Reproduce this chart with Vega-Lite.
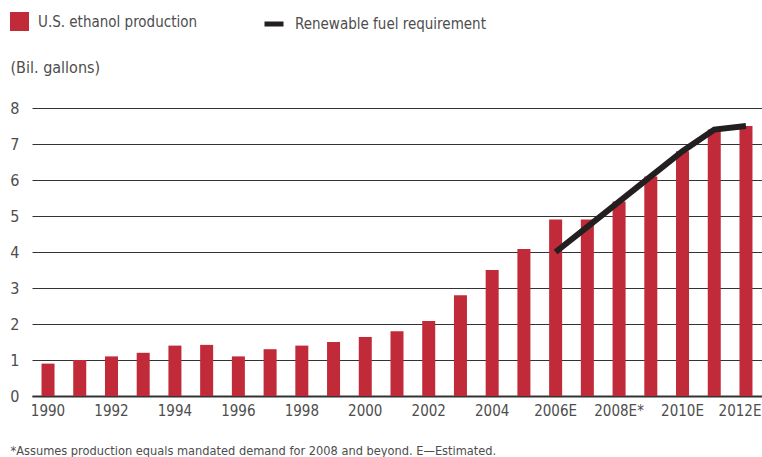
{
  "$schema": "https://vega.github.io/schema/vega-lite/v6.json",
  "width": 730,
  "height": 288,
  "autosize": {"type": "none"},
  "padding": {"left": 32, "top": 108, "right": 0, "bottom": 61},
  "background": "white",
  "config": {
    "view": {"stroke": null},
    "font": "DejaVu Sans Condensed, sans-serif",
    "axis": {"labelColor": "#4d4d4d", "titleColor": "#4d4d4d", "labelFont": "DejaVu Sans Condensed, sans-serif", "titleFont": "DejaVu Sans Condensed, sans-serif"},
    "legend": {"labelColor": "#4d4d4d", "labelFont": "DejaVu Sans Condensed, sans-serif", "labelLimit": 400}
  },
  "data": {
    "values": [
      {"label": "1990", "series": "production", "value": 0.9},
      {"label": "1991", "series": "production", "value": 1.0},
      {"label": "1992", "series": "production", "value": 1.1},
      {"label": "1993", "series": "production", "value": 1.2},
      {"label": "1994", "series": "production", "value": 1.4},
      {"label": "1995", "series": "production", "value": 1.42},
      {"label": "1996", "series": "production", "value": 1.1},
      {"label": "1997", "series": "production", "value": 1.3},
      {"label": "1998", "series": "production", "value": 1.4},
      {"label": "1999", "series": "production", "value": 1.5},
      {"label": "2000", "series": "production", "value": 1.64},
      {"label": "2001", "series": "production", "value": 1.8},
      {"label": "2002", "series": "production", "value": 2.08},
      {"label": "2003", "series": "production", "value": 2.8},
      {"label": "2004", "series": "production", "value": 3.5},
      {"label": "2005", "series": "production", "value": 4.08},
      {"label": "2006E", "series": "production", "value": 4.9},
      {"label": "2007E", "series": "production", "value": 4.9},
      {"label": "2008E*", "series": "production", "value": 5.4},
      {"label": "2009E*", "series": "production", "value": 6.1},
      {"label": "2010E", "series": "production", "value": 6.8},
      {"label": "2011E", "series": "production", "value": 7.4},
      {"label": "2012E", "series": "production", "value": 7.5},
      {"label": "2006E", "series": "requirement", "value": 4.0},
      {"label": "2007E", "series": "requirement", "value": 4.7},
      {"label": "2008E*", "series": "requirement", "value": 5.4},
      {"label": "2009E*", "series": "requirement", "value": 6.1},
      {"label": "2010E", "series": "requirement", "value": 6.8},
      {"label": "2011E", "series": "requirement", "value": 7.4},
      {"label": "2012E", "series": "requirement", "value": 7.5}
    ]
  },
  "encoding": {
    "x": {
      "field": "label",
      "type": "ordinal",
      "sort": null,
      "scale": {"paddingInner": 0.59, "paddingOuter": 0.3},
      "axis": {
        "values": ["1990", "1992", "1994", "1996", "1998", "2000", "2002", "2004", "2006E", "2008E*", "2010E", "2012E"],
        "labelAngle": 0,
        "labelFontSize": 15,
        "labelPadding": 7,
        "labelOverlap": false,
        "labelOffset": {"condition": {"test": "datum.value === '2012E'", "value": -6}, "value": 0},
        "ticks": false,
        "domain": true,
        "domainColor": "#333333",
        "domainWidth": 2,
        "title": "*Assumes production equals mandated demand for 2008 and beyond. E\u2014Estimated.",
        "titleFontSize": 12.7,
        "titleFontWeight": "normal",
        "titleAlign": "left",
        "titleBaseline": "alphabetic",
        "titleX": -22,
        "titleY": 58
      }
    },
    "y": {
      "field": "value",
      "type": "quantitative",
      "scale": {"domain": [0, 8]},
      "axis": {
        "values": [0, 1, 2, 3, 4, 5, 6, 7, 8],
        "grid": true,
        "gridColor": "#333333",
        "gridWidth": 1,
        "domainOpacity": 0,
        "tickOpacity": 0,
        "tickSize": 0,
        "labelOverlap": false,
        "labelFontSize": 16,
        "labelPadding": 13,
        "title": "(Bil. gallons)",
        "titleAngle": 0,
        "titleFontSize": 16,
        "titleFontWeight": "normal",
        "titleAlign": "left",
        "titleBaseline": "alphabetic",
        "titleX": -22,
        "titleY": -36
      }
    }
  },
  "layer": [
    {
      "transform": [{"filter": "datum.series === 'production'"}],
      "mark": {"type": "bar"},
      "encoding": {
        "fill": {
          "datum": "U.S. ethanol production",
          "scale": {"range": ["#c12b39"]},
          "legend": {
            "title": null,
            "orient": "none",
            "legendX": -22,
            "legendY": -96,
            "padding": 0,
            "symbolType": "square",
            "symbolSize": 361,
            "symbolStrokeWidth": 0,
            "labelFontSize": 15,
            "labelOffset": 9
          }
        }
      }
    },
    {
      "transform": [{"filter": "datum.series === 'requirement'"}],
      "mark": {"type": "line", "strokeWidth": 6, "strokeCap": "butt", "strokeJoin": "miter"},
      "encoding": {
        "stroke": {
          "datum": "Renewable fuel requirement",
          "scale": {"range": ["#231f20"]},
          "legend": {
            "title": null,
            "orient": "none",
            "legendX": 230,
            "legendY": -96,
            "padding": 0,
            "symbolType": "stroke",
            "symbolSize": 361,
            "symbolStrokeWidth": 5,
            "labelFontSize": 15,
            "labelOffset": 9
          }
        }
      }
    }
  ]
}
